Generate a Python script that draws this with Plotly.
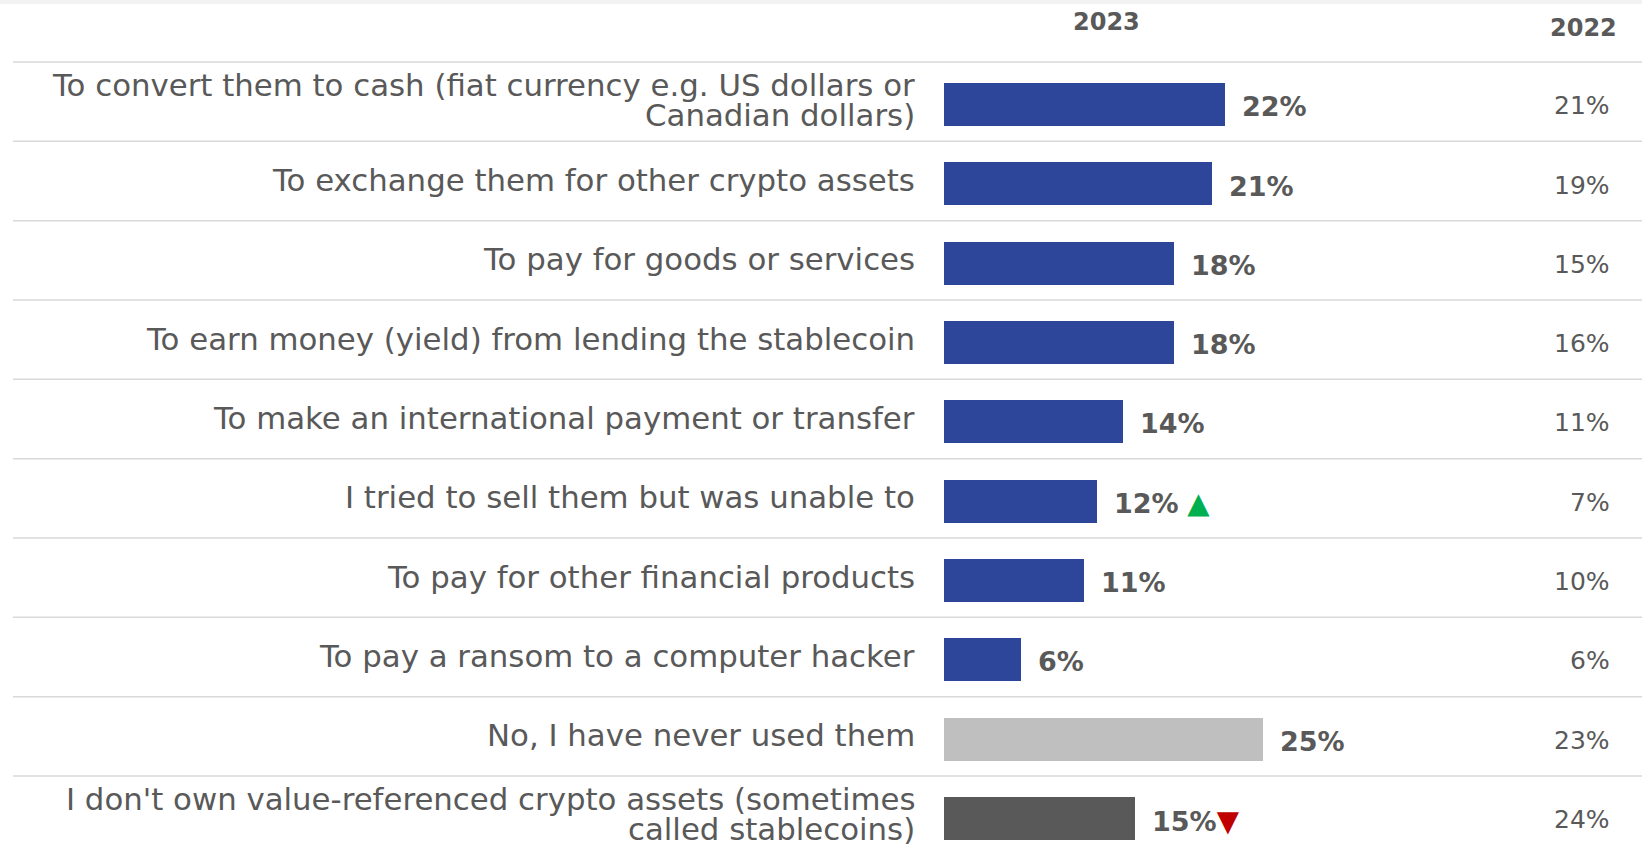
import plotly.graph_objects as go

categories = [
    "To convert them to cash (fiat currency e.g. US dollars or\nCanadian dollars)",
    "To exchange them for other crypto assets",
    "To pay for goods or services",
    "To earn money (yield) from lending the stablecoin",
    "To make an international payment or transfer",
    "I tried to sell them but was unable to",
    "To pay for other financial products",
    "To pay a ransom to a computer hacker",
    "No, I have never used them",
    "I don't own value-referenced crypto assets (sometimes\ncalled stablecoins)",
]
values_2023 = [22, 21, 18, 18, 14, 12, 11, 6, 25, 15]
values_2022 = [21, 19, 15, 16, 11, 7, 10, 6, 23, 24]
change_marks = ["", "", "", "", "", "up", "", "", "", "down"]
bar_colors = ["#2E4699"] * 8 + ["#BFBFBF", "#595959"]
headers = ["2023", "2022"]

W, H = 1642, 850
FONT = "DejaVu Sans"
GRAY = "#595959"

row_top = 62.0
row_h = 79.33
first_center = row_top + row_h / 2
y_top = (0 - first_center) / row_h
y_bot = (H - first_center) / row_h

bar_x0 = 944
px_per_pct = 12.75
x_max = (W - bar_x0) / px_per_pct

ypos = list(range(len(categories)))

bar_w = 0.54
fig = go.Figure()
fig.add_trace(go.Bar(
    x=values_2023, y=ypos, orientation="h",
    marker=dict(color=bar_colors, line=dict(width=0)),
    width=bar_w, offset=-bar_w / 2 + 0.035, hoverinfo="skip",
))

annotations = []
label_font = dict(family=FONT, size=30.8, color=GRAY)
for i, (cat, v23, v22, mk) in enumerate(zip(categories, values_2023, values_2022, change_marks)):
    lines = cat.split("\n")
    if len(lines) == 1:
        shifts = [1]
    else:
        shifts = [17, -13]
    for ln, sh in zip(lines, shifts):
        annotations.append(dict(
            x=917 / W, xref="paper", y=i, yref="y", text=ln,
            xanchor="right", yanchor="middle", align="right", showarrow=False,
            font=label_font, yshift=sh,
        ))
    txt = f"<b>{v23}%</b>"
    if mk == "up":
        txt += " <span style='color:#00B050;font-size:29px'>▲</span>"
    elif mk == "down":
        txt += "<span style='color:#C00000;font-size:29px'>▼</span>"
    annotations.append(dict(
        x=v23, xref="x", y=i, yref="y", text=txt,
        xanchor="left", yanchor="middle", showarrow=False, xshift=15, yshift=-5,
        font=dict(family=FONT, size=27, color=GRAY),
    ))
    annotations.append(dict(
        x=1612 / W, xref="paper", y=i, yref="y", text=f"{v22}%",
        xanchor="right", yanchor="middle", showarrow=False, yshift=-4,
        font=dict(family=FONT, size=25, color=GRAY),
    ))

annotations.append(dict(
    x=1106 / W, xref="paper", y=1 - 22 / H, yref="paper", text=f"<b>{headers[0]}</b>",
    xanchor="center", yanchor="middle", showarrow=False,
    font=dict(family=FONT, size=24, color=GRAY),
))
annotations.append(dict(
    x=1583 / W, xref="paper", y=1 - 28 / H, yref="paper", text=f"<b>{headers[1]}</b>",
    xanchor="center", yanchor="middle", showarrow=False,
    font=dict(family=FONT, size=24, color=GRAY),
))

shapes = [dict(type="rect", xref="paper", yref="paper", x0=0, x1=1, y0=1 - 4 / H, y1=1,
               fillcolor="#F2F2F2", line=dict(width=0), layer="below")]
for i in range(len(categories)):
    shapes.append(dict(type="line", xref="paper", yref="y", x0=13 / W, x1=1,
                       y0=i - 0.5, y1=i - 0.5, line=dict(color="#D9D9D9", width=1.5),
                       layer="below"))

fig.update_layout(
    width=W, height=H,
    margin=dict(l=0, r=0, t=0, b=0),
    paper_bgcolor="white", plot_bgcolor="white",
    showlegend=False,
    xaxis=dict(domain=[bar_x0 / W, 1], range=[0, x_max], visible=False, fixedrange=True),
    yaxis=dict(range=[y_bot, y_top], visible=False, fixedrange=True),
    annotations=annotations, shapes=shapes,
    bargap=0,
)

fig.write_html("out.html", config={"displayModeBar": False},
               post_script="document.body.style.margin='0';document.body.style.overflow='hidden';")
